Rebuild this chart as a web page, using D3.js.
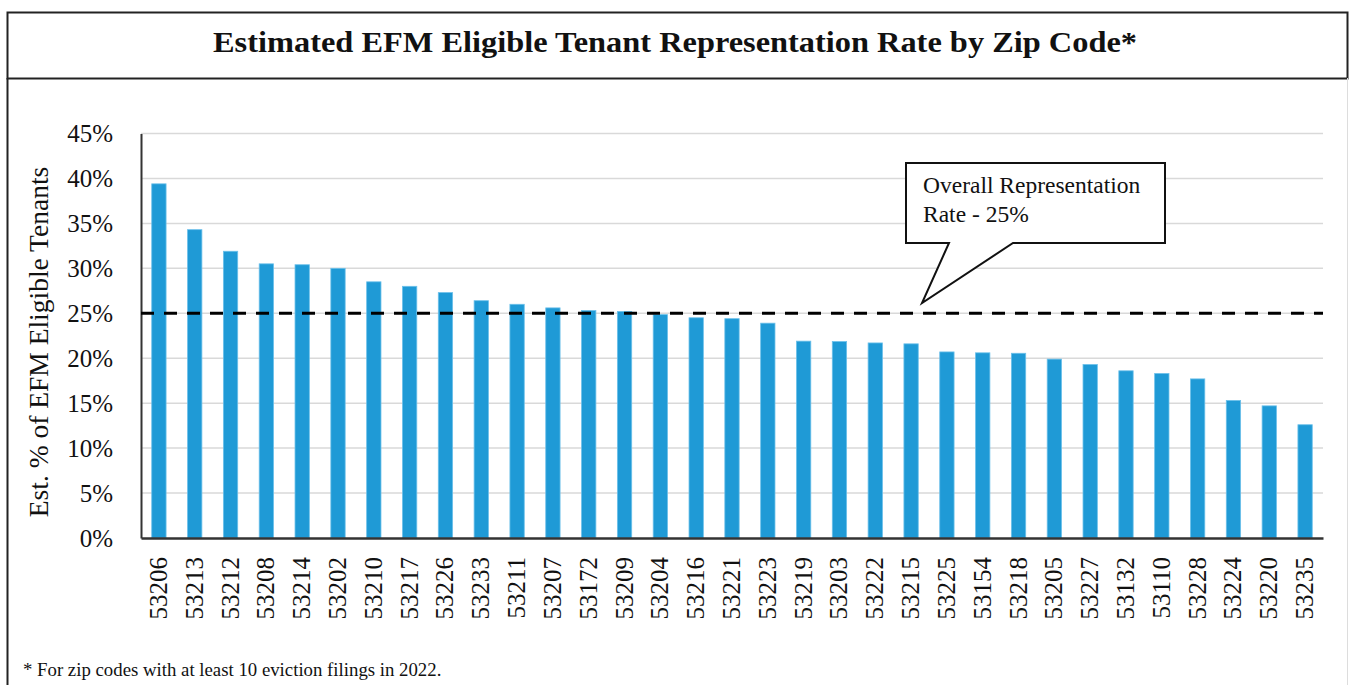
<!DOCTYPE html>
<html>
<head>
<meta charset="utf-8">
<script src="https://cdn.jsdelivr.net/npm/d3@7"></script>
<style>
	html, body { margin: 0; padding: 0; background: #fff; }
	svg { display: block; }
	svg text { font-family: "Liberation Serif", "DejaVu Serif", serif; }
</style>
</head>
<body>
<svg id="chart" width="1349" height="685"></svg>
<script>
// zip codes, sorted the way the chart shows them
var zips = ["53206", "53213", "53212", "53208", "53214", "53202", "53210", "53217", "53226", "53233",
	"53211", "53207", "53172", "53209", "53204", "53216", "53221", "53223", "53219", "53203",
	"53222", "53215", "53225", "53154", "53218", "53205", "53227", "53132", "53110", "53228",
	"53224", "53220", "53235"];

// estimated % of EFM eligible tenants represented
var rates = [39.4, 34.3, 31.9, 30.5, 30.4, 30.0, 28.5, 28.0, 27.3, 26.4,
	26.0, 25.6, 25.3, 25.2, 24.85, 24.5, 24.4, 23.9, 21.9, 21.85,
	21.7, 21.6, 20.7, 20.6, 20.55, 19.9, 19.3, 18.6, 18.3, 17.7,
	15.3, 14.7, 12.6];

var yTicks = [0, 5, 10, 15, 20, 25, 30, 35, 40, 45];
var overallRate = 25;

var serif = "'Liberation Serif', 'DejaVu Serif', serif";

var data = zips.map(function(z, i) {
	return { zip: z, rate: rates[i] };
});

var svg = d3.select("#chart");

var margin = { left: 141, right: 26, top: 133.5, bottom: 147 };
var width = 1349 - margin.left - margin.right;
var height = 685 - margin.top - margin.bottom;

// frame and title box
svg.append("rect")
	.attr("x", 7.5).attr("y", 12.5)
	.attr("width", 1340).attr("height", 66)
	.attr("fill", "none")
	.attr("stroke", "#222")
	.attr("stroke-width", 2);

svg.append("line")
	.attr("x1", 7.5).attr("x2", 7.5)
	.attr("y1", 78).attr("y2", 685)
	.attr("stroke", "#222")
	.attr("stroke-width", 2);

svg.append("line")
	.attr("x1", 1347.5).attr("x2", 1347.5)
	.attr("y1", 78).attr("y2", 685)
	.attr("stroke", "#ddd")
	.attr("stroke-width", 1);

svg.append("text")
	.attr("x", 675)
	.attr("y", 52)
	.attr("text-anchor", "middle")
	.attr("font-size", 30)
	.attr("font-weight", "bold")
	.attr("textLength", 924)
	.attr("lengthAdjust", "spacingAndGlyphs")
	.attr("fill", "#111")
	.text("Estimated EFM Eligible Tenant Representation Rate by Zip Code*");

var g = svg.append("g")
	.attr("transform", "translate(" + margin.left + "," + margin.top + ")");

var x = d3.scaleBand()
	.domain(zips)
	.range([0, width])
	.paddingInner(0.6)
	.paddingOuter(0.3);

var y = d3.scaleLinear()
	.domain([0, 45])
	.range([height, 0]);

// gridlines
g.append("g")
	.attr("class", "grid")
	.selectAll("line")
	.data(yTicks.filter((t) => t > 0))
	.enter()
	.append("line")
	.attr("x1", 0)
	.attr("x2", width)
	.attr("y1", (d) => y(d))
	.attr("y2", (d) => y(d))
	.attr("stroke", "#d9d9d9")
	.attr("stroke-width", 1.5);

// bars
g.append("g")
	.attr("class", "bars")
	.selectAll("rect")
	.data(data)
	.enter()
	.append("rect")
	.attr("x", (d) => x(d.zip))
	.attr("y", (d) => y(d.rate))
	.attr("width", x.bandwidth())
	.attr("height", (d) => height - y(d.rate))
	.attr("fill", "#1f9ad6")
	.attr("stroke", "#6cc0ea")
	.attr("stroke-width", 0.8);

// y axis
var yAxis = g.append("g")
	.call(d3.axisLeft(y)
		.tickValues(yTicks)
		.tickSize(0)
		.tickPadding(28)
		.tickFormat((d) => d + "%"))
	.attr("font-family", serif)
	.attr("font-size", 25);

yAxis.select(".domain")
	.attr("stroke", "#333")
	.attr("stroke-width", 2);

yAxis.selectAll("text")
	.style("font-family", serif)
	.style("font-size", "25px")
	.attr("fill", "#111");

// x axis
var xAxis = g.append("g")
	.attr("transform", "translate(0," + height + ")")
	.call(d3.axisBottom(x).tickSize(0).tickPadding(0))
	.attr("font-family", serif)
	.attr("font-size", 25);

xAxis.select(".domain")
	.attr("stroke", "#333")
	.attr("stroke-width", 2.5);

xAxis.selectAll("text")
	.style("font-family", serif)
	.style("font-size", "25px")
	.attr("fill", "#111")
	.attr("text-anchor", "end")
	.attr("dy", null)
	.attr("transform", "translate(8,19) rotate(-90)");

// overall rate line
g.append("line")
	.attr("x1", 0)
	.attr("x2", width)
	.attr("y1", y(overallRate))
	.attr("y2", y(overallRate))
	.attr("stroke", "#000")
	.attr("stroke-width", 3)
	.attr("stroke-dasharray", "13,10");

// callout
var box = { x: 906, y: 163, w: 259, h: 80 };
var tipX = 922, tipY = 303;
var calloutPath = [
	[box.x, box.y], [box.x + box.w, box.y], [box.x + box.w, box.y + box.h],
	[1013, box.y + box.h], [tipX, tipY], [949, box.y + box.h], [box.x, box.y + box.h]
];

svg.append("path")
	.attr("d", d3.line()(calloutPath) + "Z")
	.attr("fill", "#fff")
	.attr("stroke", "#111")
	.attr("stroke-width", 2);

svg.append("text")
	.attr("x", 923)
	.attr("y", 193)
	.attr("font-size", 23.5)
	.attr("fill", "#111")
	.text("Overall Representation");

svg.append("text")
	.attr("x", 923)
	.attr("y", 222)
	.attr("font-size", 23.5)
	.attr("fill", "#111")
	.text("Rate - 25%");

// axis title
svg.append("text")
	.attr("transform", "translate(48,342) rotate(-90)")
	.attr("text-anchor", "middle")
	.attr("font-size", 27.5)
	.attr("fill", "#111")
	.text("Est. % of EFM Eligible Tenants");

// footnote
svg.append("text")
	.attr("x", 23)
	.attr("y", 676)
	.attr("font-size", 18.8)
	.attr("fill", "#111")
	.text("* For zip codes with at least 10 eviction filings in 2022.");
</script>
</body>
</html>
